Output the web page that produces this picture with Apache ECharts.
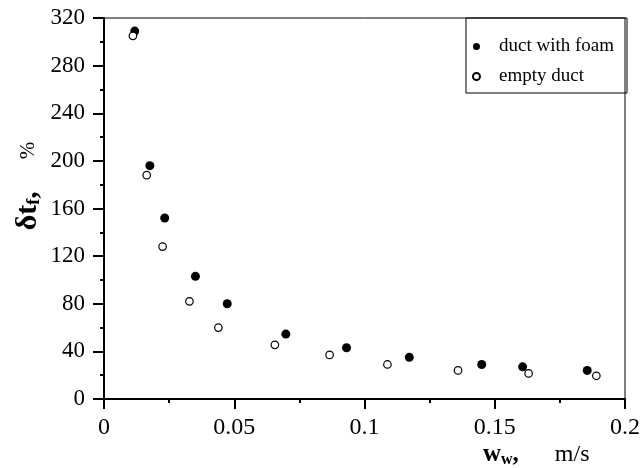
<!DOCTYPE html>
<html>
<head>
<meta charset="utf-8">
<script src="https://cdn.jsdelivr.net/npm/echarts@6/dist/echarts.min.js"></script>
<style>
  html, body { margin: 0; padding: 0; background: #fff; }
  #chart { width: 643px; height: 468px; }
</style>
</head>
<body>
<div id="chart"></div>
<script>
// duct with foam (filled dots)
var foamX = [0.0118, 0.0176, 0.0233, 0.0351, 0.0473, 0.0698, 0.0931, 0.1172, 0.145, 0.1607, 0.1855];
var foamY = [309, 196, 152, 103, 80, 54.5, 43, 35, 29, 27, 24];
// empty duct (open dots)
var emptyX = [0.0111, 0.0164, 0.0225, 0.0328, 0.0439, 0.0656, 0.0866, 0.1088, 0.1359, 0.163, 0.189];
var emptyY = [305, 188, 128, 82, 60, 45.5, 37, 29, 24, 21.5, 19.5];
var seriesNames = ['duct with foam', 'empty duct'];

function pairs(xs, ys) {
  return xs.map(function (x, i) { return [x, ys[i]]; });
}

var serif = 'Liberation Serif';
var myChart = echarts.init(document.getElementById('chart'));
var option = {
  backgroundColor: '#fff',
  animation: false,
  textStyle: { fontFamily: serif, color: '#000' },
  grid: {
    left: 104, top: 18, width: 524, height: 381,
    show: true, borderColor: '#000', borderWidth: 1
  },
  legend: {
    orient: 'vertical',
    right: 16, top: 18,
    padding: [19, 13, 7, 6],
    itemGap: 11,
    itemWidth: 7, itemHeight: 7,
    borderColor: '#000', borderWidth: 1,
    textStyle: { fontFamily: serif, fontSize: 19, color: '#000', padding: [0, 0, 0, 14] },
    data: [
      { name: seriesNames[0], icon: 'circle' },
      { name: seriesNames[1], icon: 'circle' }
    ]
  },
  xAxis: {
    type: 'value',
    min: 0, max: 0.2, interval: 0.05,
    axisLine: { lineStyle: { color: '#000', width: 2 } },
    axisTick: { inside: false, length: 10, lineStyle: { color: '#000', width: 2 } },
    minorTick: { show: true, splitNumber: 2, length: 4, lineStyle: { color: '#000', width: 2 } },
    splitLine: { show: false },
    axisLabel: {
      fontFamily: serif, fontSize: 24, color: '#000', margin: 17,
      formatter: function (v) { return String(+v.toFixed(2)); }
    }
  },
  yAxis: {
    type: 'value',
    min: 0, max: 320, interval: 40,
    axisLine: { lineStyle: { color: '#000', width: 2 } },
    axisTick: { inside: false, length: 11, lineStyle: { color: '#000', width: 2 } },
    minorTick: { show: true, splitNumber: 2, length: 4, lineStyle: { color: '#000', width: 2 } },
    splitLine: { show: false },
    axisLabel: { fontFamily: serif, fontSize: 23, color: '#000', margin: 19 }
  },
  graphic: [
    {
      type: 'text',
      x: 28, y: 186, rotation: Math.PI / 2,
      style: {
        text: '{b|δt}{s|f}{b|,}{g|}{n|%}',
        align: 'center', verticalAlign: 'middle',
        rich: {
          b: { fontFamily: serif, fontSize: 30, fontWeight: 'bold', fill: '#000' },
          s: { fontFamily: serif, fontSize: 18, fontWeight: 'bold', fill: '#000', verticalAlign: 'bottom', padding: [12, 0, 0, 0] },
          g: { width: 32 },
          n: { fontFamily: serif, fontSize: 21, fill: '#000' }
        }
      }
    },
    {
      type: 'text',
      x: 483, y: 455,
      style: {
        text: '{b|w}{s|w}{b|,}{g|}{n|m/s}',
        verticalAlign: 'middle',
        rich: {
          b: { fontFamily: serif, fontSize: 25, fontWeight: 'bold', fill: '#000' },
          s: { fontFamily: serif, fontSize: 16, fontWeight: 'bold', fill: '#000', verticalAlign: 'bottom', padding: [10, 0, 0, 0] },
          g: { width: 36 },
          n: { fontFamily: serif, fontSize: 24, fill: '#000' }
        }
      }
    }
  ],
  series: [
    {
      name: seriesNames[0],
      type: 'scatter',
      symbol: 'circle',
      symbolSize: 9,
      itemStyle: { color: '#000', opacity: 1 },
      data: pairs(foamX, foamY)
    },
    {
      name: seriesNames[1],
      type: 'scatter',
      symbol: 'circle',
      symbolSize: 7.5,
      itemStyle: { color: '#fff', borderColor: '#000', borderWidth: 1.2, opacity: 1 },
      data: pairs(emptyX, emptyY)
    }
  ]
};
myChart.setOption(option);
</script>
</body>
</html>
